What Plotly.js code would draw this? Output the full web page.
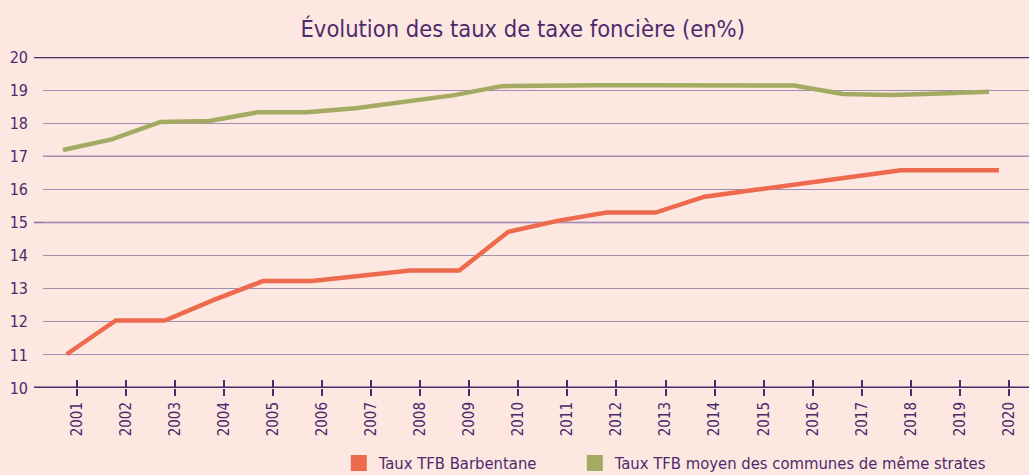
<!DOCTYPE html>
<html>
<head>
<meta charset="utf-8">
<script src="https://cdn.plot.ly/plotly-3.0.1.min.js"></script>
<style>
  html, body { margin: 0; padding: 0; background: #fde8e1; }
  #chart { width: 1029px; height: 475px; }
</style>
</head>
<body>
<div id="chart"></div>
<script>
const years = [2001, 2002, 2003, 2004, 2005, 2006, 2007, 2008, 2009, 2010,
               2011, 2012, 2013, 2014, 2015, 2016, 2017, 2018, 2019, 2020];
const tauxBarbentane = [11.02, 12.04, 12.04, 12.66, 13.23, 13.23, 13.39, 13.55, 13.55, 14.72,
                        15.05, 15.30, 15.30, 15.78, 15.98, 16.18, 16.38, 16.58, 16.58, 16.58];
const tauxStrate = [17.19, 17.51, 18.04, 18.07, 18.33, 18.33, 18.45, 18.65, 18.84, 19.12,
                    19.15, 19.15, 19.15, 19.15, 19.15, 19.14, 18.88, 18.85, 18.90, 18.95];
const seriesNames = ["Taux TFB Barbentane", "Taux TFB moyen des communes de même strates"];
const yTicks = [10, 11, 12, 13, 14, 15, 16, 17, 18, 19, 20];

const PURPLE = '#4d2a6c';
const RED = '#ee6a4e';
const GREEN = '#a3ab62';
const BG = '#fde8e1';
const FONT = 'DejaVu Sans Condensed, Liberation Sans Narrow, sans-serif';

const tickPos = years.map(y => y + 0.204);

const traces = [
  { x: years, y: tauxBarbentane, type: 'scatter', mode: 'lines', xaxis: 'x', yaxis: 'y',
    line: { color: RED, width: 4.5 }, showlegend: false, hoverinfo: 'skip' },
  { x: years, y: tauxStrate, type: 'scatter', mode: 'lines', xaxis: 'x2', yaxis: 'y',
    line: { color: GREEN, width: 4.5 }, showlegend: false, hoverinfo: 'skip' },
  { x: [null], y: [null], type: 'scatter', mode: 'markers', name: seriesNames[0],
    legend: 'legend', marker: { symbol: 'square', size: 19, color: RED } },
  { x: [null], y: [null], type: 'scatter', mode: 'markers', name: seriesNames[1],
    legend: 'legend2', marker: { symbol: 'square', size: 19, color: GREEN } },
  { x: [null], y: [null], xaxis: 'x3', yaxis: 'y', type: 'scatter', mode: 'lines',
    showlegend: false, hoverinfo: 'skip' }
];

const ext = -9 / 986;
const legendCommon = {
  orientation: 'h', xanchor: 'left', y: -0.2272, yanchor: 'middle', yref: 'paper',
  font: { family: FONT, size: 16.5, color: PURPLE }, bgcolor: 'rgba(0,0,0,0)'
};
const layout = {
  width: 1029, height: 475,
  paper_bgcolor: BG, plot_bgcolor: BG,
  margin: { l: 43, r: 0, t: 57, b: 87, autoexpand: false },
  font: { family: FONT, color: PURPLE },
  title: {
    text: 'Évolution des taux de taxe foncière <span style="font-weight:300">(en%)</span>',
    font: { family: FONT, size: 23.5, color: PURPLE },
    x: 0.508, xref: 'container', xanchor: 'center',
    y: 1 - 29 / 475, yref: 'container', yanchor: 'middle'
  },
  xaxis: {
    range: [2000.517, 2020.611],
    tickvals: tickPos, ticktext: years.map(String),
    tickangle: -90, ticks: 'outside', ticklen: 7, tickwidth: 2, tickcolor: PURPLE,
    tickfont: { family: FONT, size: 15, color: PURPLE },
    showgrid: false, zeroline: false, showline: false, fixedrange: true
  },
  xaxis3: {
    overlaying: 'x', matches: 'x', anchor: 'y',
    tickvals: tickPos, ticks: 'inside', ticklen: 8, tickwidth: 2, tickcolor: PURPLE,
    showticklabels: false, showgrid: false, zeroline: false, showline: false
  },
  xaxis2: {
    overlaying: 'x', anchor: 'y', range: [2000.590, 2020.82],
    visible: false
  },
  yaxis: {
    range: [10, 20], tickvals: yTicks,
    tickfont: { family: FONT, size: 16, color: PURPLE },
    showgrid: true, gridcolor: '#a28db3', gridwidth: 1,
    zeroline: false, showline: false, ticks: '', ticklabelstandoff: 14, fixedrange: true
  },
  shapes: [
    { type: 'line', xref: 'paper', yref: 'y', x0: ext, x1: 1, y0: 20, y1: 20,
      line: { color: PURPLE, width: 2.5 }, layer: 'below' },
    { type: 'line', xref: 'paper', yref: 'y', x0: 0, x1: 1, y0: 17, y1: 17,
      line: { color: PURPLE, width: 1.2 }, layer: 'below' },
    { type: 'line', xref: 'paper', yref: 'y', x0: ext, x1: 1, y0: 15, y1: 15,
      line: { color: '#7e68a0', width: 1.5 }, layer: 'below' },
    { type: 'line', xref: 'paper', yref: 'y', x0: ext, x1: 1, y0: 10, y1: 10,
      line: { color: PURPLE, width: 3 }, layer: 'above' }
  ],
  legend: Object.assign({}, legendCommon, { x: 0.30 }),
  legend2: Object.assign({}, legendCommon, { x: 0.5394 }),
  showlegend: true
};

Plotly.newPlot('chart', traces, layout, { displayModeBar: false, staticPlot: true });
</script>
</body>
</html>
